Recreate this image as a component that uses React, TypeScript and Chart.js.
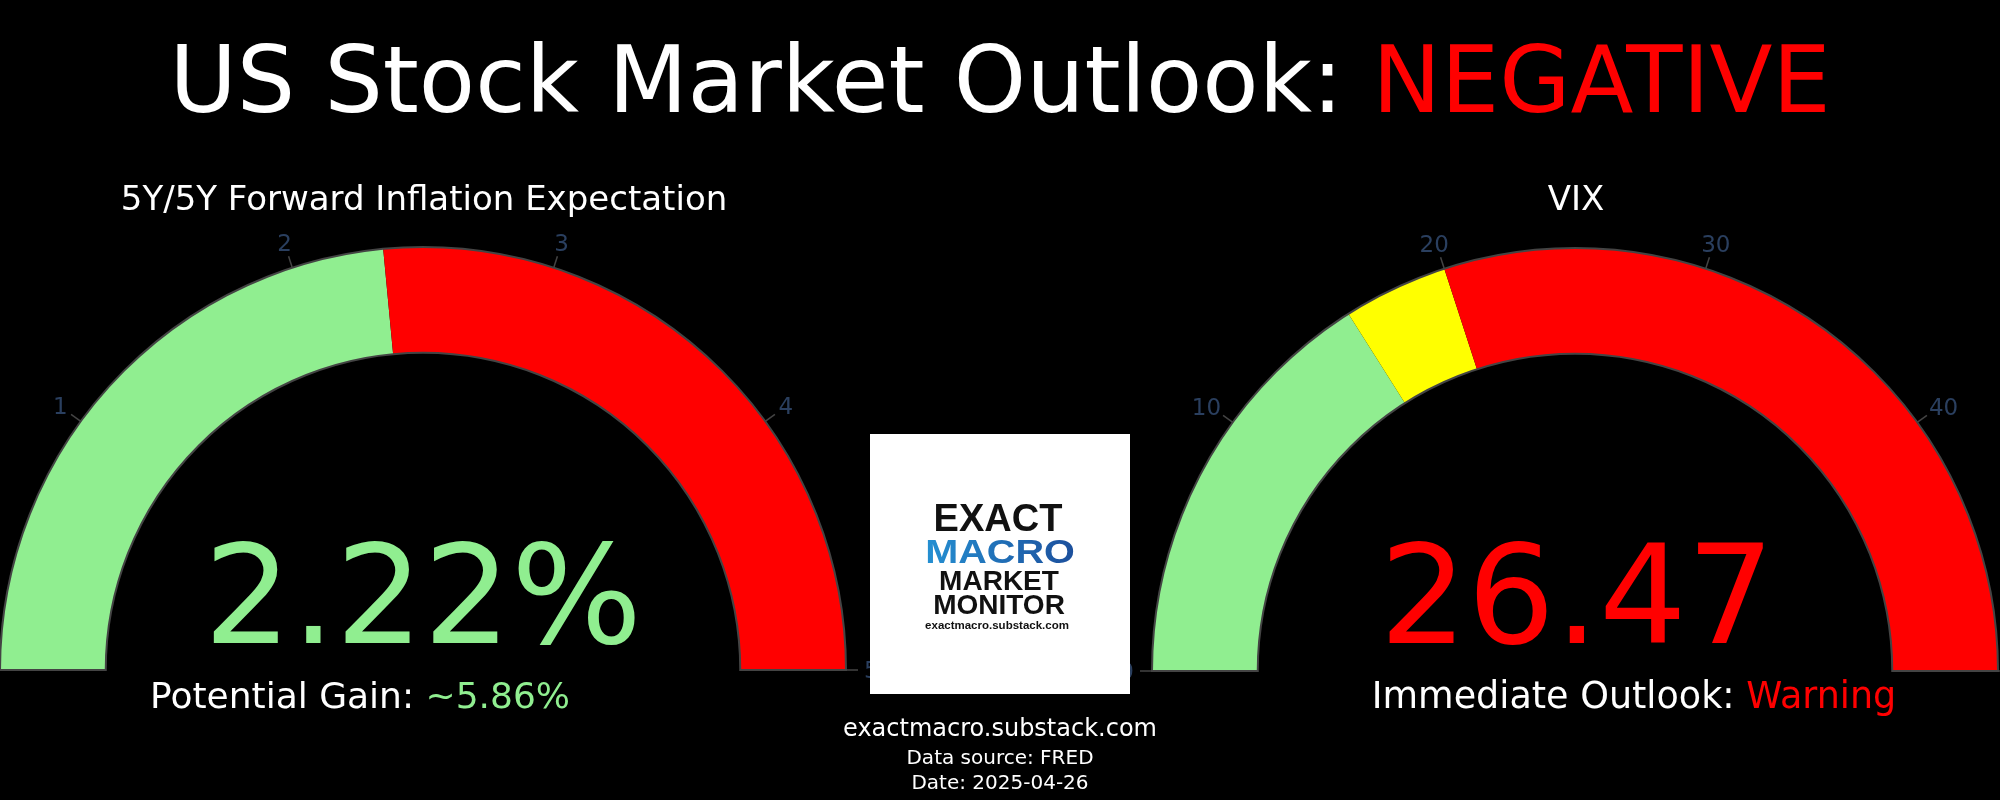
import React, { useEffect, useRef } from 'react';
import { Chart, registerables } from 'chart.js';

Chart.register(...registerables);

const PAGE_W = 2000;
const PAGE_H = 800;
const FONT = '"DejaVu Sans", Verdana, sans-serif';
const LOGO_FONT = '"Liberation Sans", Arial, sans-serif';

const mainTitle = 'US Stock Market Outlook: ';
const mainVerdict = 'NEGATIVE';

const inflationTitle = '5Y/5Y Forward Inflation Expectation';
const inflationRange = [0, 5];
const inflationStepLabels = ['Favourable', 'Unfavourable'];
const inflationStepEdges = [0, 2.35, 5];
const inflationStepColors = ['#90EE90', '#FF0000'];
const inflationTicks = [0, 1, 2, 3, 4, 5];
const inflationValue = 2.22;
const potentialGain = 5.86;

const vixTitle = 'VIX';
const vixRange = [0, 50];
const vixStepLabels = ['Calm', 'Elevated', 'Stress'];
const vixStepEdges = [0, 16, 20, 50];
const vixStepColors = ['#90EE90', '#FFFF00', '#FF0000'];
const vixTicks = [0, 10, 20, 30, 40, 50];
const vixValue = 26.47;
const vixOutlook = 'Warning';

const footerLines = ['exactmacro.substack.com', 'Data source: FRED', 'Date: 2025-04-26'];
const logoLines = ['EXACT', 'MACRO', 'MARKET', 'MONITOR', 'exactmacro.substack.com'];

const GREEN = '#90EE90';
const RED = '#FF0000';

function widthsFromEdges(edges: number[]) {
  const out: number[] = [];
  for (let i = 1; i < edges.length; i++) out.push(edges[i] - edges[i - 1]);
  return out;
}

function drawParts(ctx: CanvasRenderingContext2D, parts: [string, string][], cx: number, baseline: number, font: string) {
  ctx.font = font;
  ctx.textAlign = 'left';
  ctx.textBaseline = 'alphabetic';
  const total = parts.reduce((s, p) => s + ctx.measureText(p[0]).width, 0);
  let x = cx - total / 2;
  for (const [t, c] of parts) {
    ctx.fillStyle = c;
    ctx.fillText(t, x, baseline);
    x += ctx.measureText(t).width;
  }
}

function gaugeDecor(ticks: number[], range: number[]) {
  return {
    id: 'gaugeDecor',
    afterDatasetsDraw(chart: any) {
      const arc = chart.getDatasetMeta(0).data[0] as any;
      const x = arc.x, y = arc.y, R = arc.outerRadius, r = arc.innerRadius;
      const ctx: CanvasRenderingContext2D = chart.ctx;
      ctx.save();
      ctx.strokeStyle = '#444444';
      ctx.lineWidth = 2;
      ctx.beginPath();
      ctx.arc(x, y, R, Math.PI, 2 * Math.PI);
      ctx.lineTo(x + r, y);
      ctx.arc(x, y, r, 0, Math.PI, true);
      ctx.closePath();
      ctx.stroke();
      ctx.font = '23px ' + FONT;
      ctx.fillStyle = '#2a3f5f';
      ctx.textAlign = 'center';
      ctx.textBaseline = 'alphabetic';
      ctx.lineWidth = 1.5;
      const capH = 23 * 0.729;
      for (const t of ticks) {
        const a = Math.PI + ((t - range[0]) / (range[1] - range[0])) * Math.PI;
        const c = Math.cos(a), s = Math.sin(a);
        ctx.beginPath();
        ctx.moveTo(x + c * R, y + s * R);
        ctx.lineTo(x + c * (R + 12), y + s * (R + 12));
        ctx.stroke();
        const label = String(t);
        const w = ctx.measureText(label).width;
        const lr = R + 18;
        const cx = x + c * lr + c * (w / 2);
        const cy = y + s * lr + s * (capH / 2);
        ctx.fillText(label, cx, cy + capH / 2);
      }
      ctx.restore();
    },
  };
}

const pageText = {
  id: 'pageText',
  afterDraw(chart: any) {
    const ctx: CanvasRenderingContext2D = chart.ctx;
    ctx.save();
    drawParts(ctx, [[mainTitle, '#FFFFFF'], [mainVerdict, RED]], 1000, 112, '92px ' + FONT);
    drawParts(ctx, [[inflationTitle, '#FFFFFF']], 424, 210, '34px ' + FONT);
    drawParts(ctx, [[vixTitle, '#FFFFFF']], 1576, 210, '34px ' + FONT);
    drawParts(ctx, [[inflationValue.toFixed(2) + '%', GREEN]], 423, 643, '138px ' + FONT);
    drawParts(ctx, [[vixValue.toFixed(2), RED]], 1577, 643, '138px ' + FONT);
    drawParts(ctx, [['Potential Gain: ', '#FFFFFF'], ['~' + potentialGain.toFixed(2) + '%', GREEN]], 360, 708, '36px ' + FONT);
    drawParts(ctx, [['Immediate Outlook: ', '#FFFFFF'], [vixOutlook, RED]], 1634, 708, '36.5px ' + FONT);
    drawParts(ctx, [[footerLines[0], '#FFFFFF']], 1000, 736, '24px ' + FONT);
    drawParts(ctx, [[footerLines[1], '#FFFFFF']], 1000, 764, '20px ' + FONT);
    drawParts(ctx, [[footerLines[2], '#FFFFFF']], 1000, 789, '20px ' + FONT);
    ctx.restore();
  },
};

const logoPlugin = {
  id: 'logo',
  afterDraw(chart: any) {
    const ctx: CanvasRenderingContext2D = chart.ctx;
    ctx.save();
    ctx.fillStyle = '#FFFFFF';
    ctx.fillRect(870, 434, 260, 260);
    ctx.textAlign = 'center';
    ctx.textBaseline = 'alphabetic';
    ctx.fillStyle = '#111111';
    ctx.font = 'bold 38px ' + LOGO_FONT;
    ctx.fillText(logoLines[0], 998, 531);
    ctx.save();
    ctx.translate(1000, 563);
    ctx.scale(1.2, 1);
    ctx.font = 'bold 33px ' + LOGO_FONT;
    const w = ctx.measureText(logoLines[1]).width;
    const g = ctx.createLinearGradient(-w / 2, 0, w / 2, 0);
    g.addColorStop(0, '#2590d2');
    g.addColorStop(1, '#1c4f9c');
    ctx.fillStyle = g;
    ctx.fillText(logoLines[1], 0, 0);
    ctx.restore();
    ctx.fillStyle = '#111111';
    ctx.font = 'bold 28px ' + LOGO_FONT;
    ctx.fillText(logoLines[2], 999, 590);
    ctx.fillText(logoLines[3], 999, 614);
    ctx.font = 'bold 11.5px ' + LOGO_FONT;
    ctx.fillText(logoLines[4], 997, 629);
    ctx.restore();
  },
};

function makeGauge(
  canvas: HTMLCanvasElement,
  labels: string[],
  edges: number[],
  colors: string[],
  ticks: number[],
  range: number[],
  padding: { left: number; right: number; top: number; bottom: number },
  extraPlugins: any[]
) {
  return new Chart(canvas, {
    type: 'doughnut',
    data: {
      labels,
      datasets: [
        {
          data: widthsFromEdges(edges),
          backgroundColor: colors,
          borderWidth: 0,
          hoverOffset: 0,
        },
      ],
    },
    options: {
      responsive: false,
      animation: false,
      devicePixelRatio: 1,
      rotation: -90,
      circumference: 180,
      cutout: '75%',
      events: [],
      layout: { padding },
      plugins: { legend: { display: false }, tooltip: { enabled: false } },
    } as any,
    plugins: [gaugeDecor(ticks, range), ...extraPlugins],
  });
}

export default function App() {
  const leftRef = useRef<HTMLCanvasElement>(null);
  const rightRef = useRef<HTMLCanvasElement>(null);

  useEffect(() => {
    document.body.style.margin = '0';
    document.body.style.background = '#000';
    const c1 = makeGauge(
      leftRef.current!,
      inflationStepLabels,
      inflationStepEdges,
      inflationStepColors,
      inflationTicks,
      inflationRange,
      { left: 0, right: PAGE_W - 846, top: 670 - 423, bottom: PAGE_H - 670 },
      [pageText]
    );
    const c2 = makeGauge(
      rightRef.current!,
      vixStepLabels,
      vixStepEdges,
      vixStepColors,
      vixTicks,
      vixRange,
      { left: 1152, right: PAGE_W - 1998, top: 671 - 423, bottom: PAGE_H - 671 },
      [logoPlugin]
    );
    return () => {
      c1.destroy();
      c2.destroy();
    };
  }, []);

  const cs: React.CSSProperties = { position: 'absolute', left: 0, top: 0, width: PAGE_W, height: PAGE_H };
  return (
    <div style={{ position: 'absolute', left: 0, top: 0, width: PAGE_W, height: PAGE_H, background: '#000', overflow: 'hidden' }}>
      <canvas ref={leftRef} width={PAGE_W} height={PAGE_H} style={cs} />
      <canvas ref={rightRef} width={PAGE_W} height={PAGE_H} style={cs} />
    </div>
  );
}
